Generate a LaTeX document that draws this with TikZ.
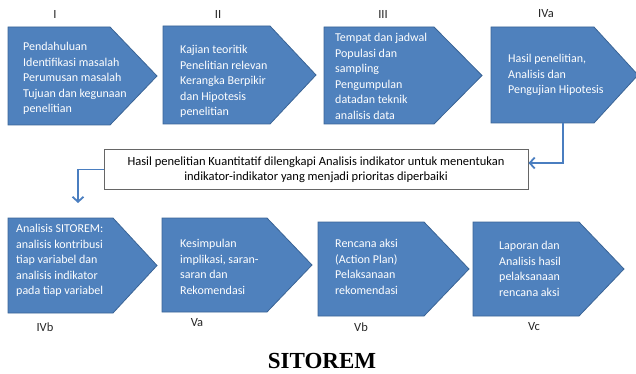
\documentclass[tikz,border=0pt]{standalone}
\usepackage{fontspec}
\setmainfont{Carlito}
\newfontfamily\titlefont{Liberation Serif}
\usetikzlibrary{arrows.meta}
\definecolor{stepblue}{HTML}{4F81BD}
\definecolor{stepedge}{HTML}{3A6496}
\definecolor{linkblue}{HTML}{4A7EC0}
\tikzset{
  stage/.style={fill=stepblue, draw=stepedge, line width=0.8pt, line join=miter},
  stagetext/.style={anchor=north west, inner sep=0pt, align=left,
    text=white, font=\fontsize{12}{15.6}\selectfont},
  roman/.style={font=\fontsize{12.5}{14}\selectfont, text=black!85, inner sep=0pt},
  link/.style={draw=linkblue, line width=1.8pt,
    -{Straight Barb[length=5pt,width=11pt,line width=1.8pt]}},
}
% arrow-shaped stage: left x, end of body x, tip x, top y, bottom y
\newcommand\stageshape[5]{%
  \path[stage] (#1,#4) -- (#2,#4) -- (#3,{(#4+#5)/2}) -- (#2,#5) -- (#1,#5) -- cycle;}
\begin{document}
\begin{tikzpicture}[x=1pt,y=-1pt]
\useasboundingbox (0,0) rectangle (636,374);

% upper row of stages
\stageshape{8}{110}{157}{27}{125}
\stageshape{163}{270}{316}{26}{124}
\stageshape{324}{434}{482}{27}{124}
\stageshape{491}{594}{638}{27}{123}
\coordinate (s4) at (563,123);

\node[stagetext] (t1) at (23,42) {Pendahuluan\\Identifikasi masalah\\Perumusan masalah\\Tujuan dan kegunaan\\penelitian};
\node[stagetext] (t2) at (180,45) {Kajian teoritik\\Penelitian relevan\\Kerangka Berpikir\\dan Hipotesis\\penelitian};
\node[stagetext] (t3) at (335,33) {Tempat dan jadwal\\Populasi dan\\sampling\\Pengumpulan\\datadan teknik\\analisis data};
\node[stagetext] (t4) at (508,54) {Hasil penelitian,\\Analisis dan\\Pengujian Hipotesis};

\node[roman] (r1) at (55,14) {I};
\node[roman] (r2) at (218,14) {II};
\node[roman] (r3) at (383,14) {III};
\node[roman] (r4) at (546,14) {IVa};

% summary box between the rows
\node[draw=black!60, line width=1pt, minimum width=424pt, minimum height=39pt,
  align=center, inner sep=0pt, font=\fontsize{12.5}{15.5}\selectfont] (mid) at (316,169.5)
  {Hasil penelitian Kuantitatif dilengkapi Analisis indikator untuk menentukan\\indikator-indikator yang menjadi prioritas diperbaiki};

% lower row of stages
\stageshape{8}{113}{157}{218}{313}
\stageshape{162}{267}{312}{218}{312}
\stageshape{318}{424}{469}{222}{316}
\stageshape{473}{579}{624}{222}{316}

\node[stagetext] (u1) at (16,224) {Analisis SITOREM:\\analisis kontribusi\\tiap variabel dan\\analisis indikator\\pada tiap variabel};
\node[stagetext] (u2) at (180,239) {Kesimpulan\\implikasi, saran-\\saran dan\\Rekomendasi};
\node[stagetext] (u3) at (335,239) {Rencana aksi\\(Action Plan)\\Pelaksanaan\\rekomendasi};
\node[stagetext] (u4) at (499,241) {Laporan dan\\Analisis hasil\\pelaksanaan\\rencana aksi};

\node[roman] (q1) at (45,327) {IVb};
\node[roman] (q2) at (197,323) {Va};
\node[roman] (q3) at (361,327) {Vb};
\node[roman] (q4) at (534,327) {Vc};

% connectors through the summary box
\coordinate (drop) at (78,203);
\draw[link] (s4) |- ([yshift=6.5pt]mid.east);
\draw[link] (mid.west) -| (drop);

\node[anchor=base, inner sep=0pt, text depth=0pt,
  font=\titlefont\bfseries\fontsize{23}{25}\selectfont] (title) at (322,368.5) {SITOREM};
\end{tikzpicture}
\end{document}
